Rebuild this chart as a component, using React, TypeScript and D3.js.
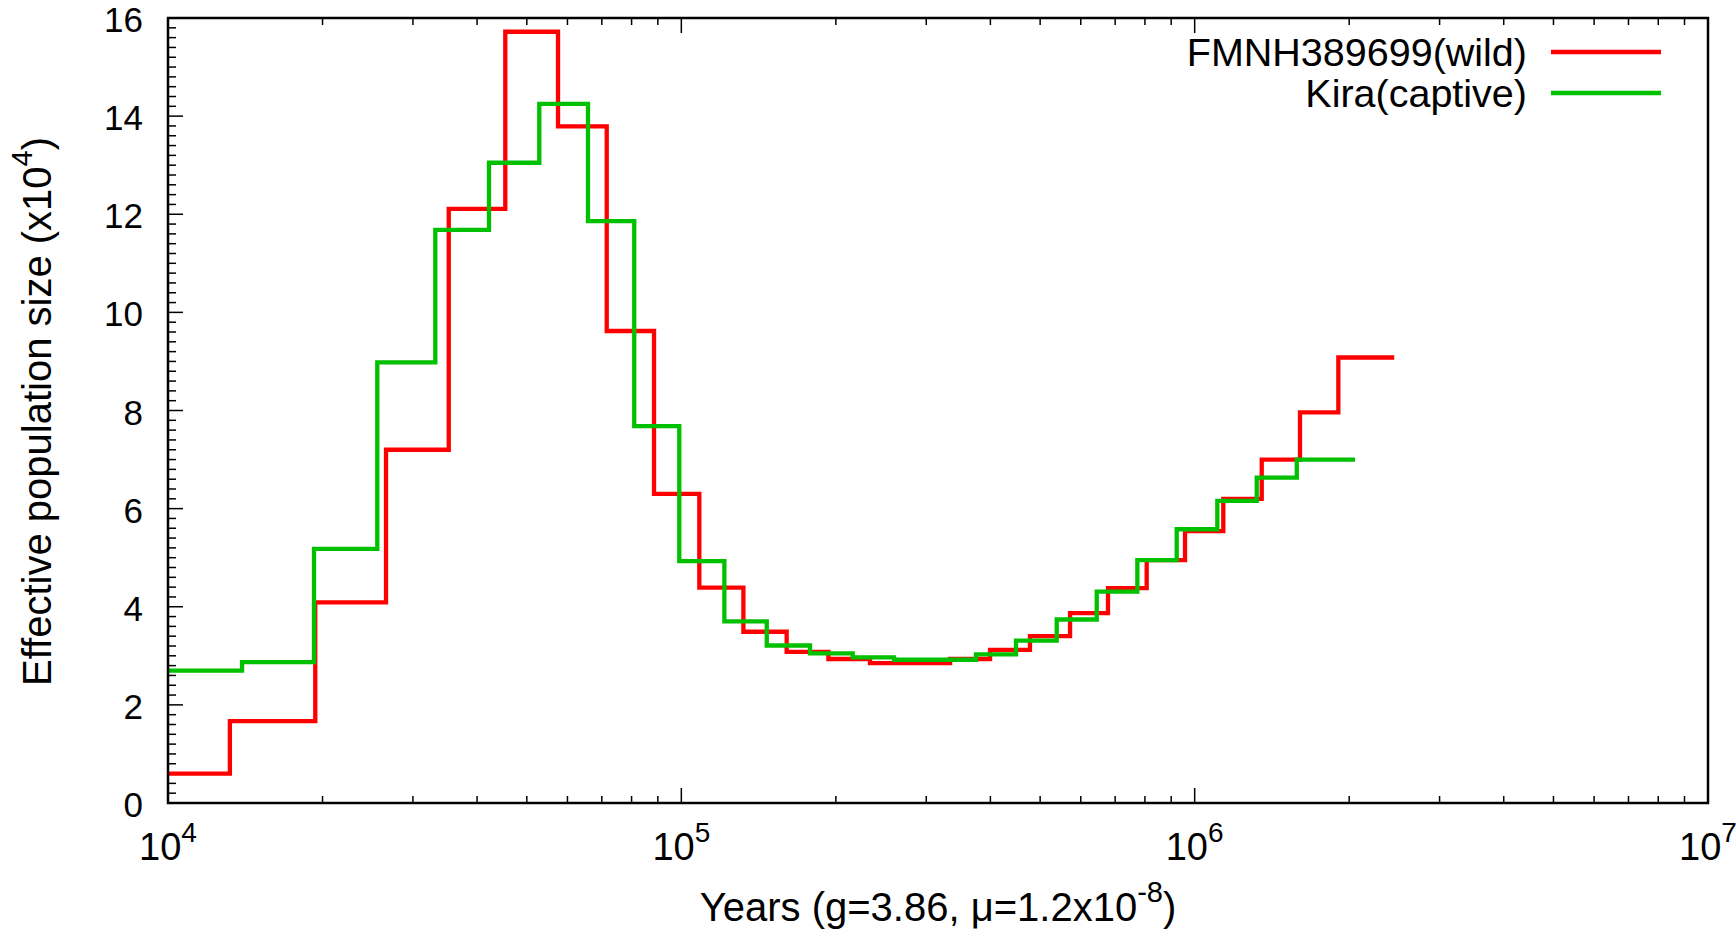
import React from "react";
import * as d3 from "d3";

// ---- data (years, Ne x10^4) ----
const wildYears = [1e4, 13200, 19360, 26590, 35230, 45400, 57510, 71560, 88470, 108400, 132100, 160400, 193400, 233100, 333800, 399400, 477700, 571800, 677900, 806400, 957700, 1137000, 1351000, 1604000, 1905000, 2448000];
const wildNe = [0.60, 1.67, 4.09, 7.20, 12.11, 15.72, 13.79, 9.62, 6.30, 4.39, 3.49, 3.08, 2.935, 2.85, 2.935, 3.12, 3.40, 3.87, 4.38, 4.95, 5.54, 6.20, 7.00, 7.96, 9.08];

const captiveYears = [1e4, 13940, 19250, 25570, 33170, 42200, 52880, 65790, 80960, 99090, 121300, 146700, 178100, 215700, 259600, 375000, 448700, 538600, 644500, 773300, 922600, 1107000, 1321000, 1581000, 2053000];
const captiveNe = [2.70, 2.87, 5.18, 8.98, 11.68, 13.05, 14.25, 11.86, 7.68, 4.93, 3.70, 3.21, 3.05, 2.97, 2.92, 3.03, 3.31, 3.74, 4.31, 4.95, 5.58, 6.16, 6.63, 7.00];

const seriesNames = ["FMNH389699(wild)", "Kira(captive)"];
const seriesColors = ["#ff0000", "#00c000"];

const xMajorTicks = [1e4, 1e5, 1e6, 1e7];
const xMajorExponents = ["4", "5", "6", "7"];
const yMajorTicks = [0, 2, 4, 6, 8, 10, 12, 14, 16];

const W = 1736;
const H = 934;
const L = 168, R = 1708, T = 18, B = 803;
const FONT = "'Liberation Sans', Arial, Helvetica, sans-serif";

function toPoints(years: number[], ne: number[]): [number, number][] {
  const pts: [number, number][] = ne.map((v, i) => [years[i], v]);
  pts.push([years[years.length - 1], ne[ne.length - 1]]);
  return pts;
}

export default function App() {
  const x = d3.scaleLog().domain([1e4, 1e7]).range([L, R]);
  const y = d3.scaleLinear().domain([0, 16]).range([B, T]);

  const line = d3
    .line<[number, number]>()
    .x((d) => x(d[0]))
    .y((d) => y(d[1]))
    .curve(d3.curveStepAfter);

  const series = [
    toPoints(wildYears, wildNe),
    toPoints(captiveYears, captiveNe),
  ];

  const xMinor: number[] = [];
  for (let e = 4; e < 7; e++) {
    for (let m = 2; m <= 9; m++) xMinor.push(m * Math.pow(10, e));
  }
  const yMinor: number[] = [];
  for (let v = 0; v <= 16.001; v += 0.2) {
    const r = Math.round(v * 10) / 10;
    if (Math.abs(r / 2 - Math.round(r / 2)) > 1e-6) yMinor.push(r);
  }

  return (
    <svg
      width={W}
      height={H}
      viewBox={`0 0 ${W} ${H}`}
      style={{ position: "absolute", left: 0, top: 0, display: "block", background: "#fff" }}
      fontFamily={FONT}
    >
      <rect x={0} y={0} width={W} height={H} fill="#fff" />
      <defs>
        <clipPath id="plotclip">
          <rect x={L} y={T} width={R - L} height={B - T} />
        </clipPath>
      </defs>

      {/* minor & major ticks */}
      <g stroke="#000" strokeWidth={1.5}>
        {yMinor.map((v) => (
          <line key={"ym" + v} x1={L} x2={L + 8} y1={y(v)} y2={y(v)} />
        ))}
        {yMajorTicks.map((v) => (
          <line key={"yM" + v} x1={L} x2={L + 15} y1={y(v)} y2={y(v)} />
        ))}
        {xMinor.map((t) => (
          <g key={"xm" + t}>
            <line x1={x(t)} x2={x(t)} y1={B} y2={B - 7} />
            <line x1={x(t)} x2={x(t)} y1={T} y2={T + 7} />
          </g>
        ))}
        {xMajorTicks.map((t) => (
          <g key={"xM" + t}>
            <line x1={x(t)} x2={x(t)} y1={B} y2={B - 15} />
            <line x1={x(t)} x2={x(t)} y1={T} y2={T + 15} />
          </g>
        ))}
      </g>

      {/* data */}
      <g clipPath="url(#plotclip)" fill="none" strokeWidth={4.3} strokeLinejoin="miter">
        {series.map((pts, i) => (
          <path key={i} d={line(pts) || ""} stroke={seriesColors[i]} />
        ))}
      </g>

      {/* border */}
      <rect x={L} y={T} width={R - L} height={B - T} fill="none" stroke="#000" strokeWidth={2.5} />

      {/* y tick labels */}
      <g fontSize={35} textAnchor="end" fill="#000">
        {yMajorTicks.map((v) => (
          <text key={"yl" + v} x={143} y={y(v) + 14}>
            {v}
          </text>
        ))}
      </g>

      {/* x tick labels */}
      <g fontSize={38} textAnchor="middle" fill="#000">
        {xMajorTicks.map((t, i) => (
          <text key={"xl" + t} x={x(t)} y={860}>
            10
            <tspan fontSize={28} dy={-18}>
              {xMajorExponents[i]}
            </tspan>
          </text>
        ))}
      </g>

      {/* axis titles */}
      <text x={938} y={921} fontSize={40} textAnchor="middle" fill="#000">
        Years (g=3.86, μ=1.2x10
        <tspan fontSize={29} dy={-19}>-8</tspan>
        <tspan dy={19}>)</tspan>
      </text>
      <text
        transform={`translate(51, ${(T + B) / 2 + 1}) rotate(-90)`}
        fontSize={40}
        textAnchor="middle"
        fill="#000"
      >
        Effective population size (x10
        <tspan fontSize={29} dy={-19}>4</tspan>
        <tspan dy={19}>)</tspan>
      </text>

      {/* legend */}
      <g fontSize={39.5} textAnchor="end" fill="#000">
        {seriesNames.map((name, i) => {
          const ly = 52 + i * 41;
          return (
            <g key={name}>
              <text x={1527} y={ly + 14}>{name}</text>
              <line x1={1551} x2={1661} y1={ly} y2={ly} stroke={seriesColors[i]} strokeWidth={4.3} />
            </g>
          );
        })}
      </g>
    </svg>
  );
}
